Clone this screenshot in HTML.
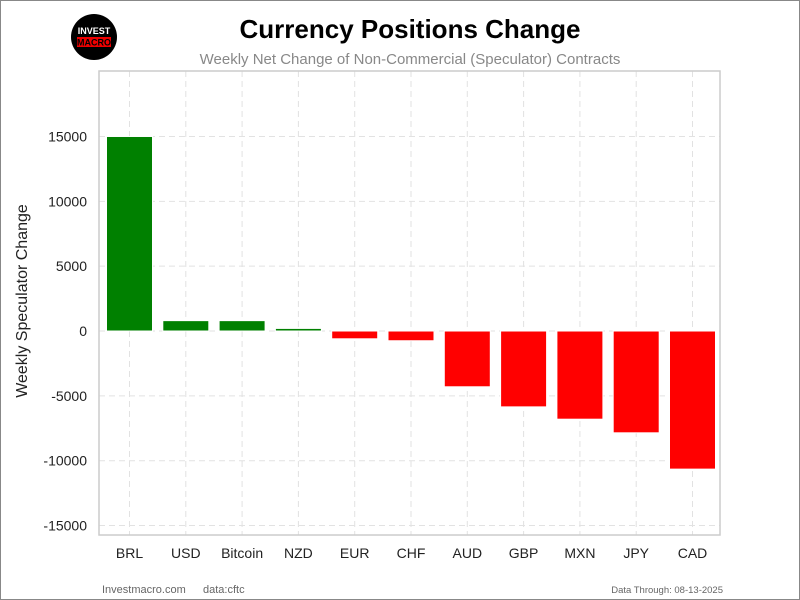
<!DOCTYPE html>
<html><head><meta charset="utf-8"><style>
body{margin:0;background:#fff;}
#wrap{position:relative;width:798px;height:598px;border:1px solid #888;overflow:hidden;font-family:"Liberation Sans",sans-serif;}
</style></head><body>
<div id="wrap">
<svg id="chart" width="798" height="598" xmlns="http://www.w3.org/2000/svg">
<g>
<circle cx="93" cy="36" r="23" fill="#000"/>
<text x="93" y="33" font-size="9" font-weight="bold" fill="#fff" text-anchor="middle" font-family="Liberation Sans, sans-serif">INVEST</text>
<rect x="76" y="36" width="34" height="10" fill="#e00"/>
<text x="93" y="44.5" font-size="9" font-weight="bold" fill="#000" text-anchor="middle" font-family="Liberation Sans, sans-serif">MACRO</text>
</g>
<text x="409" y="37" font-size="26" font-weight="bold" text-anchor="middle" fill="#000">Currency Positions Change</text>
<text x="409" y="63" font-size="15" text-anchor="middle" fill="#888">Weekly Net Change of Non-Commercial (Speculator) Contracts</text>
<text transform="translate(26,300) rotate(-90)" font-size="16" text-anchor="middle" fill="#222">Weekly Speculator Change</text>
<text x="101" y="592" font-size="11" fill="#666">Investmacro.com</text>
<text x="202" y="592" font-size="11" fill="#666">data:cftc</text>
<text x="722" y="592" font-size="9.5" fill="#666" text-anchor="end">Data Through: 08-13-2025</text>
<g id="grid"></g><g id="bars"></g><g id="axes"></g>
</svg>
</div>
<script>
const categories=["BRL","USD","Bitcoin","NZD","EUR","CHF","AUD","GBP","MXN","JPY","CAD"];
const values=[15000,800,800,200,-600,-750,-4300,-5850,-6800,-7850,-10650];
const yTicks=[15000,10000,5000,0,-5000,-10000,-15000];
const NS="http://www.w3.org/2000/svg";
const L=98,R=719,T=70,B=534,yMin=-15730,yMax=20050;
function y(v){return T+(yMax-v)/(yMax-yMin)*(B-T);}
const step=(R-L)/(categories.length+0.03);
function x(i){return L+30.5+i*56.3;}
function mk(tag,attrs,parent){const e=document.createElementNS(NS,tag);for(const k in attrs)e.setAttribute(k,attrs[k]);parent.appendChild(e);return e;}
const grid=document.getElementById('grid'),bars=document.getElementById('bars'),axes=document.getElementById('axes');
yTicks.forEach(t=>{
 const l=mk('line',{x1:L,x2:R,y1:y(t),y2:y(t),stroke:'#e2e2e2','stroke-dasharray':'6,4','stroke-width':1},grid);
 
 
 const tx=mk('text',{x:L-12,y:y(t)+5,'font-size':14,'text-anchor':'end',fill:'#222'},axes);
 tx.textContent=t;
 
 
});
categories.forEach((c,i)=>{
 const l=mk('line',{x1:x(i),x2:x(i),y1:T,y2:B,stroke:'#e2e2e2','stroke-dasharray':'6,4','stroke-width':1},grid);
 
 
 const v=values[i];
 const top=Math.min(y(v),y(0)),h=Math.abs(y(v)-y(0));
 const r=mk('rect',{x:x(i)-23,y:top,width:46,height:Math.max(h,1),fill:v>=0?'#008000':'#ff0000',stroke:'#fff','stroke-width':1},bars);
 
 
 const tx=mk('text',{x:x(i),y:B+23,'font-size':14,'text-anchor':'middle',fill:'#222'},axes);
 tx.textContent=c;
 
 
});
const f=mk('rect',{x:L,y:T,width:R-L,height:B-T,fill:'none',stroke:'#ccc','stroke-width':1.5},axes);


</script>
</body></html>
